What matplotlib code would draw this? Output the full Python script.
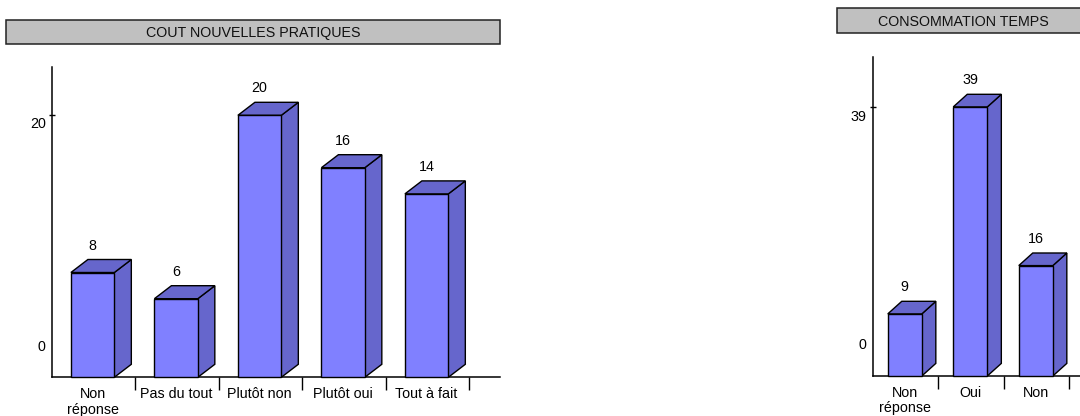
import matplotlib
matplotlib.use("Agg")
import matplotlib.pyplot as plt
from matplotlib.patches import Rectangle, Polygon

plt.rcParams["font.family"] = ["Liberation Sans", "DejaVu Sans"]

# --- data -------------------------------------------------------------
cout_title = "COUT NOUVELLES PRATIQUES"
cout_categories = ["Non\nréponse", "Pas du tout", "Plutôt non", "Plutôt oui", "Tout à fait"]
cout_values = [8, 6, 20, 16, 14]
cout_yticks = [0, 20]

temps_title = "CONSOMMATION TEMPS"
temps_categories = ["Non\nréponse", "Oui", "Non"]
temps_values = [9, 39, 16]
temps_yticks = [0, 39]

# --- style ------------------------------------------------------------
W, H, DPI = 1080, 416, 100
FRONT = "#8080FF"
SIDE = "#6666CC"
TITLE_BG = "#C0C0C0"
FS = 10.3

fig = plt.figure(figsize=(W / DPI, H / DPI), dpi=DPI)
fig.patch.set_facecolor("white")


def fx(x):
    return x / W


def fy(y):
    return 1 - y / H


def title_box(x0, x1, y0, y1, text):
    rect = Rectangle((fx(x0), fy(y1)), fx(x1) - fx(x0), fy(y0) - fy(y1),
                     transform=fig.transFigure, facecolor=TITLE_BG,
                     edgecolor="#222222", linewidth=1.1)
    fig.add_artist(rect)
    fig.text(fx((x0 + x1) / 2), fy((y0 + y1) / 2 + 1), text, ha="center",
             va="center", fontsize=FS, color="#111111")


def bar_chart(left, right, top, base, slot_px, ppy, depth, cats, vals, yticks,
              ylabel_off):
    # axes box in pixels: left/right/top/baseline
    ax = fig.add_axes([fx(left), fy(base), fx(right) - fx(left), fy(top) - fy(base)])
    xmax = (right - left) / slot_px
    ymax = (base - top) / ppy
    ax.set_xlim(0, xmax)
    ax.set_ylim(0, ymax)
    ax.set_facecolor("none")
    for s in ("top", "right"):
        ax.spines[s].set_visible(False)
    for s in ("left", "bottom"):
        ax.spines[s].set_linewidth(1.1)
        ax.spines[s].set_color("black")

    dx = depth[0] / slot_px
    dy = depth[1] / ppy
    width = 0.52
    for i, v in enumerate(vals):
        c = i + 0.49
        x0, x1 = c - width / 2, c + width / 2
        front = Rectangle((x0, 0), width, v, facecolor=FRONT, edgecolor="black",
                          linewidth=1.0, zorder=3, clip_on=False)
        side = Polygon([(x1, 0), (x1 + dx, dy), (x1 + dx, v + dy), (x1, v)],
                       closed=True, facecolor=SIDE, edgecolor="black",
                       linewidth=1.0, zorder=3, clip_on=False)
        topf = Polygon([(x0, v), (x1, v), (x1 + dx, v + dy), (x0 + dx, v + dy)],
                       closed=True, facecolor=SIDE, edgecolor="black",
                       linewidth=1.0, zorder=3, clip_on=False)
        for p in (side, topf, front):
            ax.add_patch(p)
        ax.annotate(str(v), xy=(c, v), xytext=(0, 23), textcoords="offset pixels",
                    ha="center", va="baseline", fontsize=FS)

    # x axis: category labels at centres, tick marks at slot boundaries
    ax.set_xticks([i + 0.49 for i in range(len(cats))])
    ax.set_xticklabels(cats, fontsize=FS, linespacing=1.15)
    ax.set_xticks(range(1, len(cats) + 1), minor=True)
    ax.tick_params(axis="x", which="major", length=0, pad=7)
    ax.tick_params(axis="x", which="minor", length=9.4, width=1.0, direction="out")

    # y axis: marks on non-zero ticks, labels drawn with their own offsets
    ax.set_yticks([t for t in yticks if t != 0])
    ax.set_yticklabels([])
    ax.tick_params(axis="y", which="major", length=5, width=1.0, direction="inout")
    for t in yticks:
        off = ylabel_off[0] if t == 0 else ylabel_off[1]
        ax.annotate(str(t), xy=(0, t), xycoords=("axes fraction", "data"),
                    xytext=(-6, off), textcoords="offset pixels",
                    ha="right", va="center", fontsize=FS, annotation_clip=False)
    return ax


# left chart
title_box(6, 500, 20, 44, cout_title)
bar_chart(left=51.7, right=500, top=67, base=377.3, slot_px=83.5, ppy=13.1,
          depth=(17, 13), cats=cout_categories, vals=cout_values,
          yticks=cout_yticks, ylabel_off=(30, -9))

# right chart (runs past the right edge of the canvas)
title_box(837, 1090, 8.3, 33.3, temps_title)
bar_chart(left=872.7, right=1100, top=56.7, base=376, slot_px=65.5, ppy=6.9,
          depth=(14, 12.6), cats=temps_categories, vals=temps_values,
          yticks=temps_yticks, ylabel_off=(31, -10))

fig.savefig("out.png", dpi=DPI)
